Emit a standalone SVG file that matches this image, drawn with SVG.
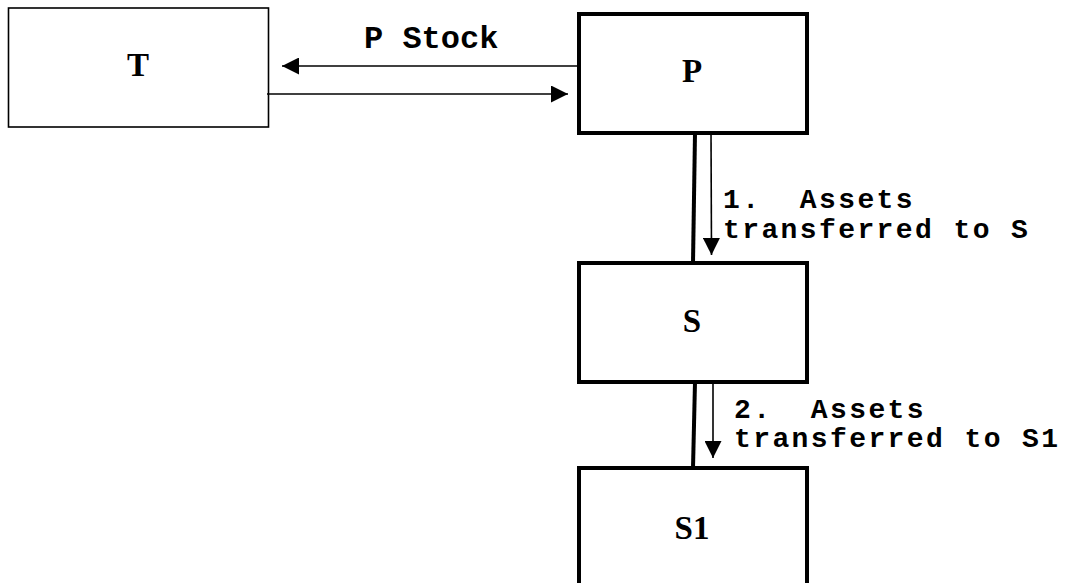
<svg xmlns="http://www.w3.org/2000/svg" width="1067" height="583" viewBox="0 0 1067 583">
<style>
.box{fill:#fff;stroke:#000}
.thin{stroke-width:1.6}
.thick{stroke-width:4}
.lbl{font-family:"Liberation Mono",monospace;font-weight:bold;font-size:32px;fill:#000}
.sm{font-size:28px;letter-spacing:2.4px}
.nm{font-family:"Liberation Serif",serif;font-weight:bold;font-size:33px;fill:#000;text-anchor:middle}
.ln{stroke:#000;fill:none}
</style>
<defs>
<marker id="ah" markerUnits="userSpaceOnUse" markerWidth="18" markerHeight="17" refX="17" refY="8.5" orient="auto">
<path d="M0,0 L17,8.5 L0,17 Z" fill="#000"/>
</marker>
</defs>
<rect width="1067" height="583" fill="#fff"/>
<g id="node-T">
<rect class="box thin" x="8.5" y="8" width="260" height="119"/>
<text class="nm" x="138" y="76">T</text>
</g>
<g id="node-P">
<rect class="box thick" x="579" y="14" width="228" height="119"/>
<text class="nm" x="692" y="82">P</text>
</g>
<g id="node-S">
<rect class="box thick" x="579" y="263" width="228" height="119"/>
<text class="nm" x="692" y="332">S</text>
</g>
<g id="node-S1">
<rect class="box thick" x="579" y="468" width="228" height="120"/>
<text class="nm" x="692" y="539">S1</text>
</g>
<g id="connectors">
<line class="ln thin" x1="577" y1="66" x2="282" y2="66" marker-end="url(#ah)"/>
<line class="ln thin" x1="267" y1="94" x2="568" y2="94" marker-end="url(#ah)"/>
<line class="ln thick" x1="695" y1="133" x2="693" y2="263"/>
<line class="ln thin" x1="711" y1="131" x2="711.5" y2="255" marker-end="url(#ah)"/>
<line class="ln thick" x1="695" y1="382" x2="693" y2="468"/>
<line class="ln thin" x1="713" y1="382" x2="713" y2="458" marker-end="url(#ah)"/>
</g>
<g id="labels">
<text class="lbl" x="364" y="48">P Stock</text>
<text class="lbl sm" x="723" y="208" xml:space="preserve">1.  Assets</text>
<text class="lbl sm" x="723" y="238">transferred to S</text>
<text class="lbl sm" x="734" y="418" xml:space="preserve">2.  Assets</text>
<text class="lbl sm" x="734" y="447">transferred to S1</text>
</g>
</svg>
